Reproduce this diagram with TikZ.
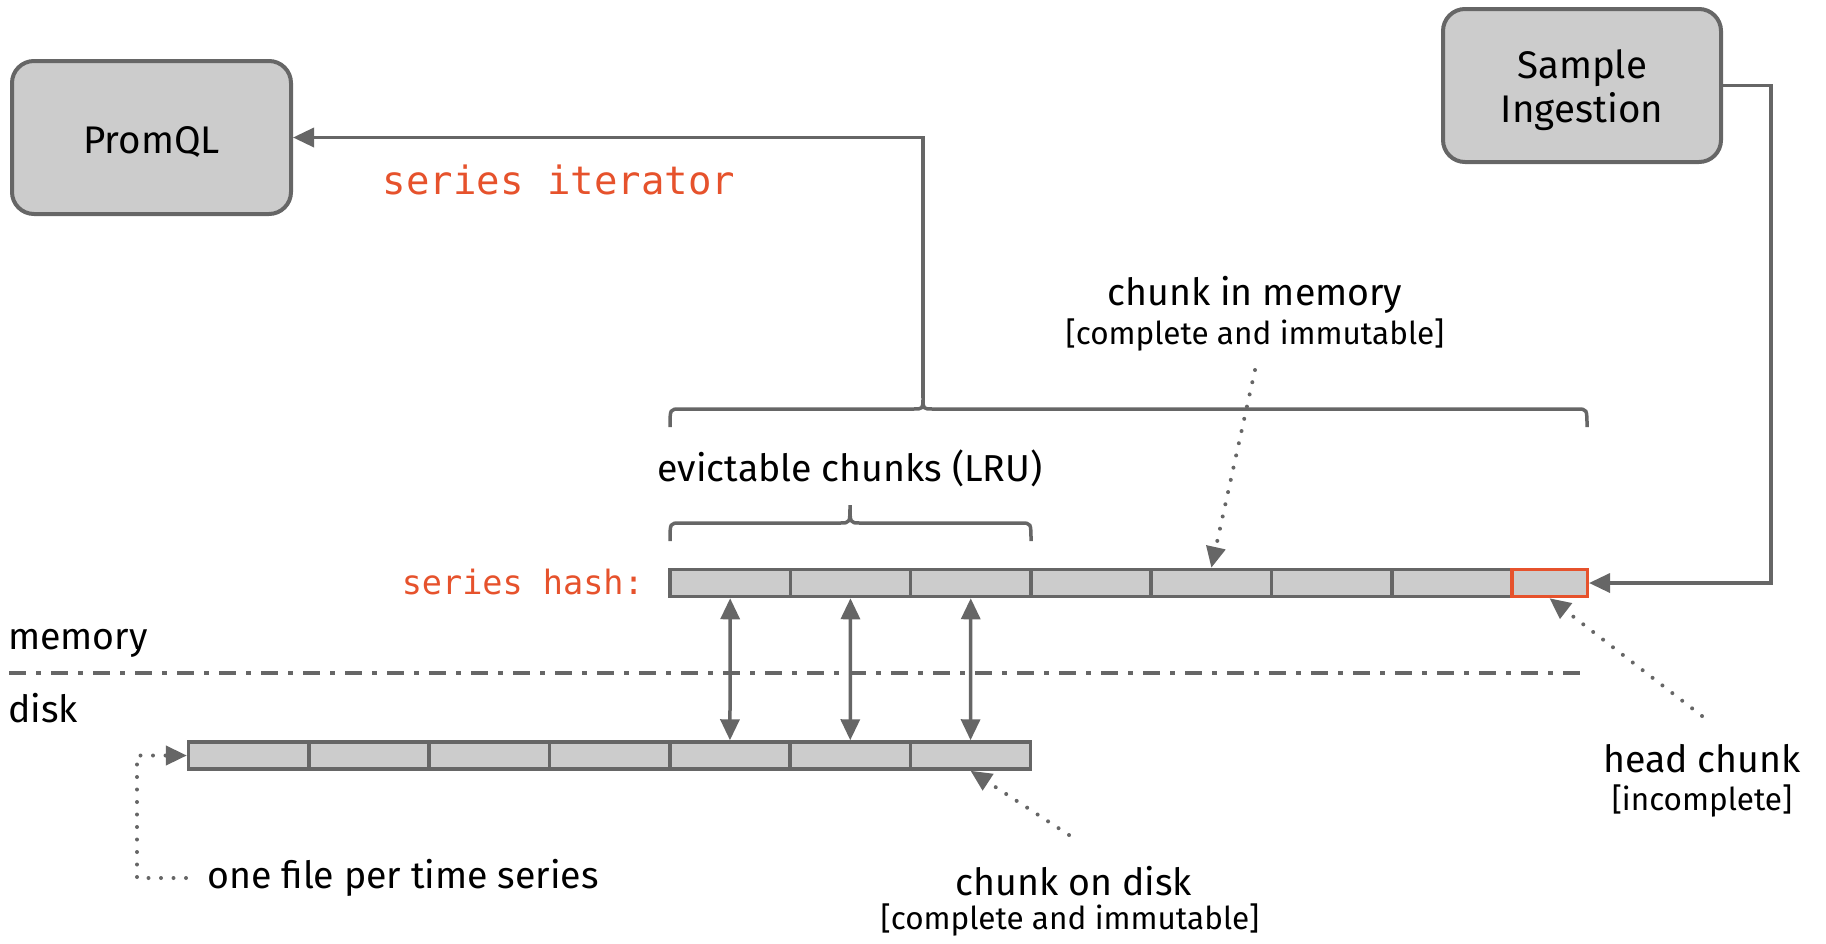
\documentclass[tikz,border=0pt]{standalone}
\usepackage{fontspec}
\setmainfont{Fira Sans}
\newfontfamily\codefont{DejaVu Sans Mono}
\usetikzlibrary{arrows.meta,calc}
\definecolor{edge}{HTML}{666666}
\definecolor{cellfill}{HTML}{CCCCCC}
\definecolor{promorange}{HTML}{E6522C}
\tikzset{
  procbox/.style={draw=edge, fill=cellfill, line width=4pt, rounded corners=22pt,
    inner sep=0pt},
  boxtext/.style={inner sep=0pt, align=center, font=\fontsize{38.5}{44}\selectfont},
  cell/.style={draw=edge, fill=cellfill, line width=3.5pt, inner sep=0pt,
    minimum width=120.3pt, minimum height=27pt},
  headcell/.style={cell, draw=promorange, minimum width=75.5pt},
  tip/.style={-{Triangle[length=21pt,width=19pt]}},
  flow/.style={draw=edge, line width=3.5pt, tip},
  dbl/.style={draw=edge, line width=3.5pt, {Triangle[length=21pt,width=19pt]}-{Triangle[length=21pt,width=19pt]}},
  dots/.style={draw=edge, line width=4pt, line cap=round, dash pattern=on 0pt off 12.5pt, tip},
  brace/.style={draw=edge, line width=3.5pt},
  lbl/.style={inner sep=0pt, font=\fontsize{37.5}{44}\selectfont},
  sublbl/.style={inner sep=0pt, font=\fontsize{31.5}{38}\selectfont},
  code/.style={inner sep=0pt, text=promorange},
}
\begin{document}
\begin{tikzpicture}[x=1pt, y=-1pt]
\path[use as bounding box] (0,0) rectangle (1826,943);

% process boxes
\node[procbox, minimum width=279pt, minimum height=153pt] (promql) at (151.5,137.5) {};
\node[boxtext] (promqltext) at ([yshift=-4pt]promql.center) {PromQL};
\node[procbox, minimum width=278pt, minimum height=153pt] (ingest) at (1582,85.5) {};
\node[boxtext] (ingesttext) at ([yshift=-5pt]ingest.center) {Sample\\Ingestion};

% chunks held in memory
\foreach \i in {1,...,7}
  \node[cell] (m\i) at ({670+120.3*(\i-0.5)},583) {};
\node[headcell] (head) at (1549.5,583) {};

% chunks persisted on disk
\foreach \i in {1,...,7}
  \node[cell] (d\i) at ({188.6+120.3*(\i-0.5)},755.5) {};

% labels
\node[code, font=\codefont\fontsize{39}{44}\selectfont] (iter) at (559,180) {series iterator};
\node[code, font=\codefont\fontsize{33.5}{40}\selectfont, anchor=east] (hash) at (644,582) {series hash:};
\node[lbl] (cim) at (1255,295) {chunk in memory};
\node[sublbl] (cimsub) at (1255,335) {[complete and immutable]};
\node[lbl] (lru) at (850,468) {evictable chunks (LRU)};
\node[lbl, anchor=west] (mem) at (8,643) {memory};
\node[lbl, anchor=west] (disk) at (8,708) {disk};
\node[lbl] (hc) at (1702,759) {head chunk};
\node[sublbl] (hcsub) at (1702,801) {[incomplete]};
\node[lbl] (cod) at (1074,881) {chunk on disk};
\node[sublbl] (codsub) at (1070,920) {[complete and immutable]};
\node[lbl, anchor=west] (ofile) at (207,878) {one file per time series};

% braces over the memory chunks
\coordinate (bigtip) at (923,398);
\draw[brace] (670,427) .. controls (670,409) .. (680,409) -- (913,409)
  .. controls (923,409) .. (bigtip) .. controls (923,409) .. (933,409)
  -- (1577,409) .. controls (1587,409) .. (1587,427);
\draw[brace] (670,541) .. controls (670,523) .. (680,523) -- (840,523)
  .. controls (850,523) .. (850,505) .. controls (850,523) .. (860,523)
  -- (1021,523) .. controls (1031,523) .. (1031,541);

% memory / disk boundary
\draw[edge, line width=4pt, dash pattern=on 17pt off 10pt on 5pt off 10pt] (9,673) -- (1580,673);

% data flow
\draw[flow] (bigtip) |- (promql.east);
\draw[flow] (ingest.east) -- (1771,85.5) |- (head.east);
\foreach \m/\d in {1/5,2/6,3/7}
  \draw[dbl] (m\m.south) -- (d\d.north);

% annotation pointers
\draw[dots] (1255,370) -- (m5.north);
\draw[dots] (1702,716) -- (head.south);
\draw[dots] (1069,835) -- (d7.south);
\draw[dots] ([xshift=-21pt]ofile.west) -- (137,878) |- (d1.west);
\end{tikzpicture}
\end{document}
